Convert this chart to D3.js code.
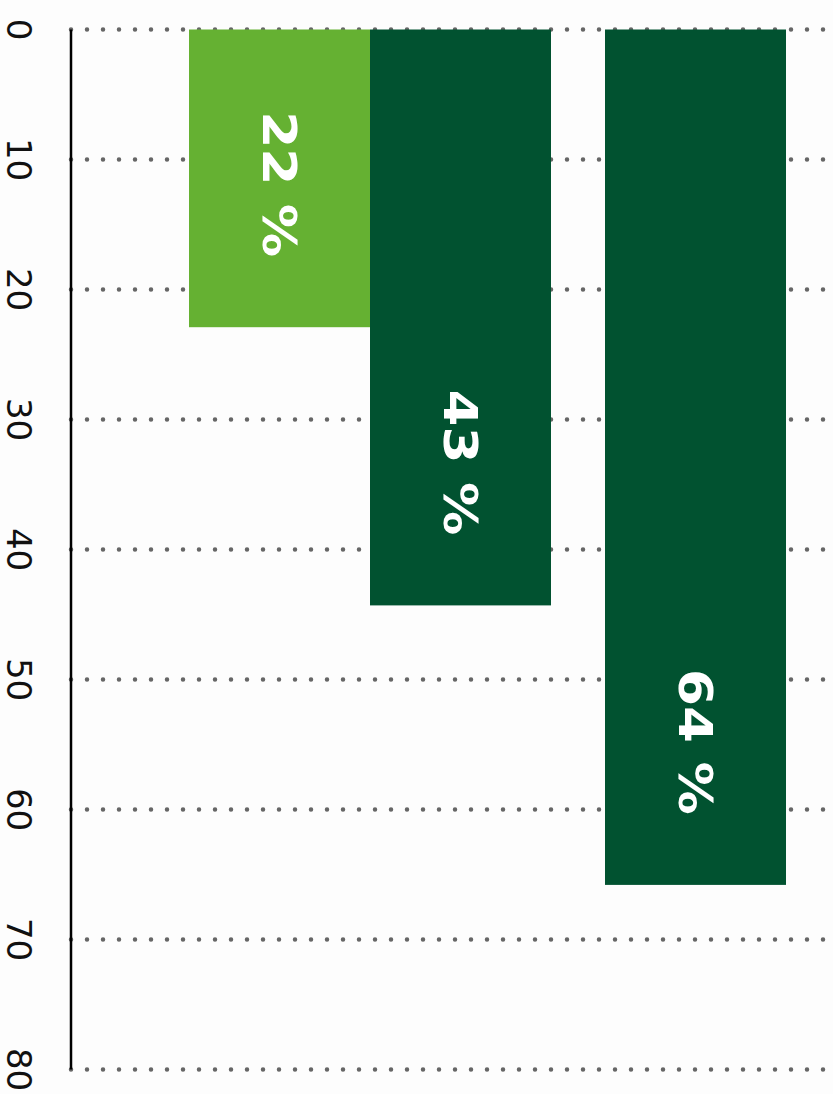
<!DOCTYPE html>
<html>
<head>
<meta charset="utf-8">
<script src="https://cdn.jsdelivr.net/npm/d3@7"></script>
<style>
  html, body { margin: 0; padding: 0; background: #fdfdfd; }
  svg { display: block; }
</style>
</head>
<body>
<script>
// ---- data ----
const groups = ["G1", "G2"];
const groupSeries = [["light", "dark"], ["dark"]];
const values = [[22.9, 44.3], [65.8]];
const labels = [["22 %", "43 %"], ["64 %"]];
const ticks = [0, 10, 20, 30, 40, 50, 60, 70, 80];
const palette = { light: "#65b132", dark: "#015230" };

const W = 833, H = 1094;
const svg = d3.select("body").append("svg").attr("width", W).attr("height", H);
svg.append("rect").attr("width", W).attr("height", H).attr("fill", "#fdfdfd");

const y = d3.scaleLinear().domain([0, 80]).range([29.5, 1069.5]);
const x = d3.scaleBand().domain(groups).range([189, 967]).paddingInner(54 / 416).paddingOuter(0);
const barW = x.bandwidth() / 2;

// gridlines (dotted)
svg.append("g").selectAll("line").data(ticks).join("line")
  .attr("x1", 71).attr("x2", W + 10)
  .attr("y1", d => y(d)).attr("y2", d => y(d))
  .attr("stroke", "#666").attr("stroke-width", 4.5)
  .attr("stroke-linecap", "round").attr("stroke-dasharray", "0,16");

// bars
const bars = [];
groups.forEach((g, gi) => {
  const inner = d3.scaleBand().domain(groupSeries[gi]).range([0, groupSeries[gi].length * barW]);
  groupSeries[gi].forEach((s, si) => {
    bars.push({ g, s, v: values[gi][si], label: labels[gi][si], x0: x(g) + inner(s), w: inner.bandwidth() });
  });
});

svg.append("g").selectAll("rect").data(bars).join("rect")
  .attr("x", d => d.x0).attr("width", d => d.w)
  .attr("y", y(0)).attr("height", d => y(d.v) - y(0))
  .attr("fill", d => palette[d.s]);

// value labels (rotated)
svg.append("g").selectAll("text").data(bars).join("text")
  .attr("transform", d => `translate(${d.x0 + d.w / 2 - 17},${y(d.v) - 143}) rotate(90)`)
  .attr("text-anchor", "middle")
  .attr("font-family", "DejaVu Sans")
  .attr("font-weight", "bold")
  .attr("font-size", 46)
  .attr("textLength", 146)
  .attr("lengthAdjust", "spacingAndGlyphs")
  .attr("fill", "#ffffff")
  .text(d => d.label);

// axis line
svg.append("line").attr("x1", 71).attr("x2", 71)
  .attr("y1", y(0)).attr("y2", y(80))
  .attr("stroke", "#000").attr("stroke-width", 2.5);

// tick labels (rotated)
svg.append("g").selectAll("text").data(ticks).join("text")
  .attr("transform", d => `translate(7,${y(d)}) rotate(90)`)
  .attr("text-anchor", "middle")
  .attr("font-family", "DejaVu Sans")
  .attr("font-size", 34)
  .attr("fill", "#111")
  .text(d => d);
</script>
</body>
</html>
